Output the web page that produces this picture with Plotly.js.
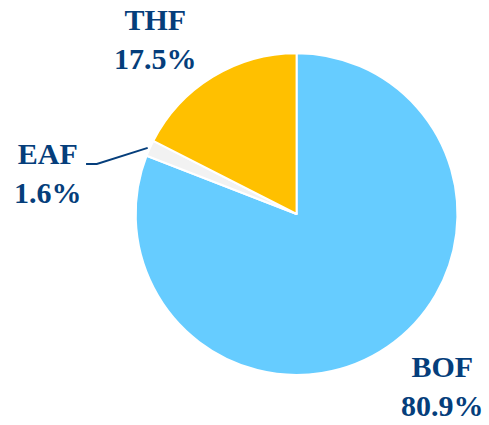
<!DOCTYPE html>
<html>
<head>
<meta charset="utf-8">
<script src="https://cdn.plot.ly/plotly-3.0.1.min.js"></script>
<style>html,body{margin:0;padding:0;background:#fff;}#chart{width:489px;height:425px;}</style>
</head>
<body>
<div id="chart"></div>
<script>
const categories = ["BOF", "EAF", "THF"];
const shares = [80.9, 1.6, 17.5];
const sliceColors = ["#66CCFF", "#F2F2F2", "#FFC000"];
const labelPos = {BOF: [0.904, 0.091], EAF: [0.098, 0.594], THF: [0.317, 0.908]};

const textColor = "#053E7B";
const annotations = categories.map((c, i) => ({
  xref: "paper", yref: "paper",
  x: labelPos[c][0], y: labelPos[c][1],
  xanchor: "center", yanchor: "middle",
  text: "<b>" + c + "<br>" + shares[i].toFixed(1) + "%</b>",
  showarrow: false,
  font: {family: "Liberation Serif", size: 30, color: textColor}
}));

const layout = {
  width: 489, height: 425,
  margin: {l: 0, r: 0, t: 0, b: 0},
  paper_bgcolor: "#fff",
  showlegend: false,
  font: {family: "Liberation Serif"},
  annotations: annotations,
  shapes: [{
    type: "path", xref: "paper", yref: "paper",
    path: "M 0.176 0.614 L 0.198 0.614 L 0.302 0.652",
    line: {color: textColor, width: 2}
  }]
};

Plotly.newPlot("chart", [{
  type: "pie",
  labels: categories,
  values: shares,
  sort: false,
  direction: "clockwise",
  rotation: 0,
  marker: {colors: sliceColors, line: {color: "#FFFFFF", width: 2}},
  textinfo: "none",
  hoverinfo: "label+percent",
  domain: {x: [0.276, 0.937], y: [0.118, 0.875]}
}], layout, {displayModeBar: false, staticPlot: true});
</script>
</body>
</html>
